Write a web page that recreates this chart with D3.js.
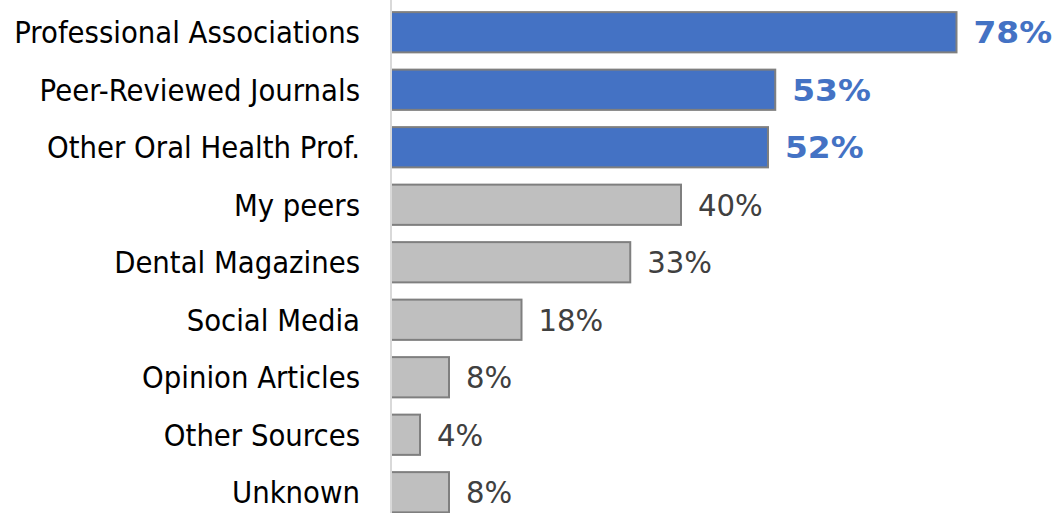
<!DOCTYPE html>
<html>
<head>
<meta charset="utf-8">
<script src="https://cdn.jsdelivr.net/npm/d3@7"></script>
<style>
  html, body { margin: 0; padding: 0; background: #ffffff; }
  svg { display: block; }
</style>
</head>
<body>
<svg id="chart" width="1059" height="513"></svg>
<script>
// Sources of information, share of respondents (%)
const categories = [
  "Professional Associations",
  "Peer-Reviewed Journals",
  "Other Oral Health Prof.",
  "My peers",
  "Dental Magazines",
  "Social Media",
  "Opinion Articles",
  "Other Sources",
  "Unknown"
];
const values = [78, 53, 52, 40, 33, 18, 8, 4, 8];
// top three sources are emphasised
const highlighted = [true, true, true, false, false, false, false, false, false];

const W = 1059, H = 513;
const axisX = 391;
const fontFamily = "'DejaVu Sans', Verdana, sans-serif";

const svg = d3.select("#chart");

const x = d3.scaleLinear().domain([0, 80]).range([axisX, axisX + 580]);
const y = d3.scaleBand()
  .domain(categories)
  .range([3.5, 521])
  .paddingInner(0.3)
  .paddingOuter(0.15);

const rows = categories.map((c, i) => ({ cat: c, val: values[i], hi: highlighted[i] }));

// bars
svg.append("g").selectAll("rect")
  .data(rows)
  .join("rect")
  .attr("x", x(0))
  .attr("y", d => y(d.cat))
  .attr("width", d => x(d.val) - x(0))
  .attr("height", y.bandwidth())
  .attr("fill", d => d.hi ? "#4472C4" : "#BFBFBF")
  .attr("stroke", "#7F7F7F")
  .attr("stroke-width", 2);

// category axis (ticks sit at band centres)
const yAxis = d3.axisLeft(y).tickSize(0).tickPadding(0);
const gAxis = svg.append("g").attr("transform", `translate(${axisX},0)`).call(yAxis);
gAxis.select(".domain").remove();
gAxis.selectAll("text").remove();

svg.append("line")
  .attr("x1", axisX).attr("x2", axisX)
  .attr("y1", 0).attr("y2", H)
  .attr("stroke", "#D9D9D9")
  .attr("stroke-width", 2);

// category labels (right-aligned, slightly condensed)
const labelRight = 360;
const labelStretch = 0.89;
gAxis.selectAll(".tick").each(function(d) {
  d3.select(this).append("text")
    .attr("transform", `translate(${labelRight - axisX},0) scale(${labelStretch},1)`)
    .attr("dy", "0.36em")
    .attr("text-anchor", "end")
    .attr("fill", "#000000")
    .style("font-family", fontFamily)
    .style("font-size", "31px")
    .text(d);
});

// value labels
svg.append("g").selectAll("text")
  .data(rows)
  .join("text")
  .attr("transform", d => `translate(${x(d.val) + 17},${y(d.cat) + y.bandwidth() / 2}) scale(${d.hi ? 1.06 : 0.94},1)`)
  .attr("dy", "0.36em")
  .attr("fill", d => d.hi ? "#4472C4" : "#404040")
  .style("font-family", fontFamily)
  .style("font-size", "31px")
  .style("font-weight", d => d.hi ? "bold" : "normal")
  .text(d => d.val + "%");
</script>
</body>
</html>
